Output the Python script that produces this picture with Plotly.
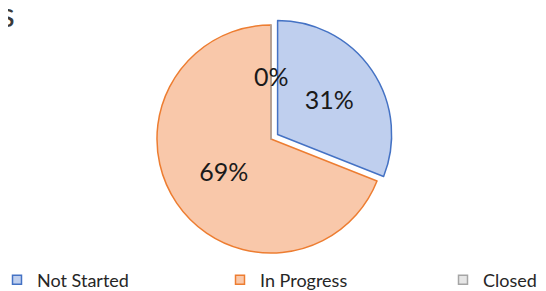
import plotly.graph_objects as go

labels = ["Not Started", "In Progress", "Closed"]
values = [31, 69, 0]
fill_colors = ["#bfcfee", "#f9c8aa", "#e6e6e6"]
line_colors = ["#4472c4", "#ed7d31", "#a5a5a5"]
pulls = [0.07, 0, 0]

FONT = "Lato, DejaVu Sans, sans-serif"
W, H = 546, 291

fig = go.Figure()
fig.add_trace(go.Pie(
    labels=labels,
    values=values,
    sort=False,
    direction="clockwise",
    rotation=0,
    pull=pulls,
    marker=dict(colors=fill_colors, line=dict(color=line_colors, width=1.5)),
    texttemplate="%{value}%",
    textposition="inside",
    insidetextorientation="horizontal",
    textfont=dict(family=FONT, size=25, color="#1a1a1a"),
    domain=dict(x=[141 / W, 385 / W], y=[1 - 253 / H, 1 - 9 / H]),
    hoverinfo="label+value",
    showlegend=False,
))

# legend entries (one legend per category so they can be spread out like the original)
legend_names = ["legend", "legend2", "legend3"]
legend_x = [-11, 212, 435]
for i, lab in enumerate(labels):
    fig.add_trace(go.Scatter(
        x=[None], y=[None], mode="markers", name=lab,
        marker=dict(symbol="square", size=9, color=fill_colors[i],
                    line=dict(color=line_colors[i], width=1.5)),
        legend=legend_names[i], showlegend=True, hoverinfo="skip",
    ))

legend_style = dict(
    orientation="h", xref="paper", yref="container",
    y=19 / H, xanchor="left", yanchor="middle",
    font=dict(family=FONT, size=18, color="#262626"),
    bgcolor="rgba(0,0,0,0)", borderwidth=0,
)

# zero-value slice label
fig.add_annotation(
    x=263 / W, y=1 - 68 / H, xref="paper", yref="paper",
    xanchor="center", yanchor="middle",
    text=f"{values[2]}%", showarrow=False,
    font=dict(family=FONT, size=25, color="#1a1a1a"),
)
# clipped chart title fragment
fig.add_annotation(
    x=9 / W, y=1 - 5 / H, xref="paper", yref="paper", xanchor="right", yanchor="middle",
    text="s", showarrow=False,
    font=dict(family=FONT, size=34, color="#3a3a3a"),
)

fig.update_layout(
    width=W, height=H,
    margin=dict(l=0, r=0, t=0, b=0, autoexpand=False),
    paper_bgcolor="white",
    plot_bgcolor="white",
    xaxis=dict(visible=False),
    yaxis=dict(visible=False),
    legend=dict(legend_style, x=legend_x[0] / W),
    legend2=dict(legend_style, x=legend_x[1] / W),
    legend3=dict(legend_style, x=legend_x[2] / W),
)

fig.write_html("out.html")
